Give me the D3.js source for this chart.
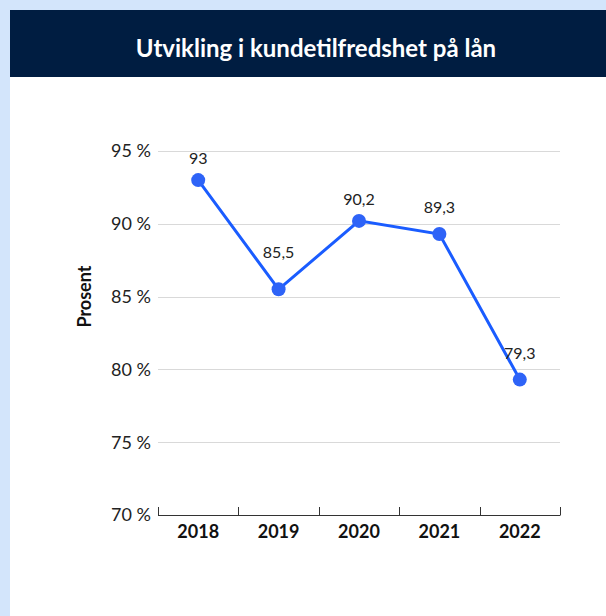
<!DOCTYPE html>
<html>
<head>
<meta charset="utf-8">
<script src="https://cdn.jsdelivr.net/npm/d3@7"></script>
<style>
  html, body { margin: 0; padding: 0; background: #d3e5fb; }
  svg { display: block; }
</style>
</head>
<body>
<div id="chart"></div>
<script>
const years = ['2018', '2019', '2020', '2021', '2022'];
const values = [93, 85.5, 90.2, 89.3, 79.3];
const yTicks = [70, 75, 80, 85, 90, 95];

const W = 606, H = 616;
const margin = { top: 151, right: 46, bottom: 101, left: 158 };
const width = W - margin.left - margin.right;
const height = H - margin.top - margin.bottom;
const font = 'Lato, "Open Sans", sans-serif';

const svg = d3.select('#chart')
    .append('svg')
    .attr('width', W)
    .attr('height', H);

// background panel + header
svg.append('rect').attr('x', 0).attr('y', 0).attr('width', W).attr('height', H).attr('fill', '#d3e5fb');
svg.append('rect').attr('x', 10).attr('y', 10).attr('width', W).attr('height', H).attr('fill', '#ffffff');
svg.append('rect').attr('x', 10).attr('y', 10).attr('width', W).attr('height', 67).attr('fill', '#001d41');
svg.append('text')
    .attr('x', 316)
    .attr('y', 57)
    .attr('text-anchor', 'middle')
    .attr('fill', '#ffffff')
    .style('font-family', font)
    .style('font-weight', 'bold')
    .style('font-size', '24px')
    .text('Utvikling i kundetilfredshet på lån');

const g = svg.append('g').attr('transform', `translate(${margin.left},${margin.top})`);

const x = d3.scaleBand().domain(years).range([0, width]).padding(0);
const y = d3.scaleLinear().domain([70, 95]).range([height, 0]);

// gridlines
g.selectAll('.grid')
    .data(yTicks.filter(d => d !== 70))
    .enter()
    .append('line')
    .attr('x1', 0)
    .attr('x2', width)
    .attr('y1', d => Math.round(y(d)) + 0.5)
    .attr('y2', d => Math.round(y(d)) + 0.5)
    .attr('stroke', '#d9d9d9')
    .attr('stroke-width', 1);

// y tick labels
g.selectAll('.ylab')
    .data(yTicks)
    .enter()
    .append('text')
    .attr('x', -7)
    .attr('y', d => y(d))
    .attr('dy', '0.35em')
    .attr('text-anchor', 'end')
    .attr('fill', '#222')
    .style('font-family', font)
    .style('font-size', '18px')
    .text(d => `${d} %`);

// x axis line + ticks (ticks point up)
g.append('line')
    .attr('x1', 0).attr('x2', width)
    .attr('y1', height + 0.5).attr('y2', height + 0.5)
    .attr('stroke', '#333').attr('stroke-width', 1);
const boundaries = years.map(d => x(d)).concat([width]);
g.selectAll('.xtick')
    .data(boundaries)
    .enter()
    .append('line')
    .attr('x1', d => Math.round(d) + 0.5)
    .attr('x2', d => Math.round(d) + 0.5)
    .attr('y1', height - 8)
    .attr('y2', height + 0.5)
    .attr('stroke', '#333');

g.selectAll('.xlab')
    .data(years)
    .enter()
    .append('text')
    .attr('x', d => x(d) + x.bandwidth() / 2)
    .attr('y', height + 23)
    .attr('text-anchor', 'middle')
    .attr('fill', '#111')
    .style('font-family', font)
    .style('font-weight', 'bold')
    .style('font-size', '18px')
    .text(d => d);

// y axis title
svg.append('text')
    .attr('transform', `translate(91,${margin.top + y(85)}) rotate(-90)`)
    .attr('text-anchor', 'middle')
    .attr('fill', '#111')
    .style('font-family', font)
    .style('font-weight', 'bold')
    .style('font-size', '18px')
    .text('Prosent');

// line
const line = d3.line()
    .x((d, i) => x(years[i]) + x.bandwidth() / 2)
    .y(d => y(d));

g.append('path')
    .datum(values)
    .attr('d', line)
    .attr('fill', 'none')
    .attr('stroke', '#1a5cff')
    .attr('stroke-width', 3);

g.selectAll('.dot')
    .data(values)
    .enter()
    .append('circle')
    .attr('cx', (d, i) => x(years[i]) + x.bandwidth() / 2)
    .attr('cy', d => y(d))
    .attr('r', 7)
    .attr('fill', '#2e63f7');

// value labels; lifted a bit when the line comes down into the point
g.selectAll('.val')
    .data(values)
    .enter()
    .append('text')
    .attr('x', (d, i) => x(years[i]) + x.bandwidth() / 2)
    .attr('y', (d, i) => {
        const prev = values[i - 1], next = values[i + 1];
        const down = prev !== undefined && d < prev;
        const dip = down && next !== undefined && d < next;
        return y(d) - (dip ? 31 : down ? 21 : 16);
    })
    .attr('text-anchor', 'middle')
    .attr('fill', '#222')
    .style('font-family', font)
    .style('font-size', '16px')
    .text(d => String(d).replace('.', ','));
</script>
</body>
</html>
